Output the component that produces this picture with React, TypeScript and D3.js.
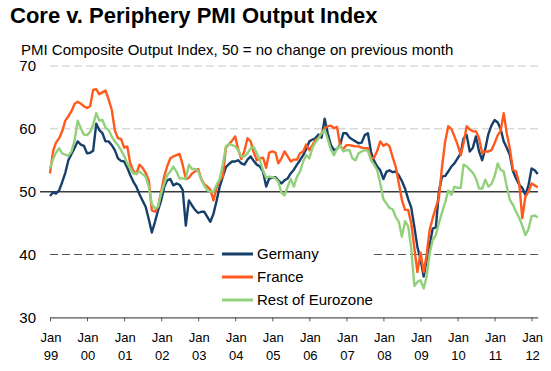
import React, { useRef, useEffect } from "react"
import * as d3 from "d3"

// Monthly PMI composite output, Jan 1999 - Mar 2012
const startYear = 1999

const germany = [
  49.3, 49.9, 49.7, 50.2, 51.5, 53.0, 55.0, 56.0, 57.0, 58.0, 57.5, 57.3,
  56.1, 56.2, 56.5, 60.8, 59.8, 59.3, 58.0, 58.0, 57.4, 56.6, 55.3, 54.9,
  54.8, 53.8, 52.7, 51.6, 50.8, 49.6, 48.6, 47.6, 45.6, 43.5, 45.2, 47.0,
  48.6, 50.8, 51.8, 52.0, 51.0, 51.3, 51.1, 50.3, 44.6, 48.6, 47.8, 47.1,
  46.6, 46.8, 46.8, 46.0, 45.2, 46.5, 48.5, 50.8, 52.4, 53.9, 54.4, 54.8,
  54.8, 55.0, 54.5, 54.3, 55.1, 55.6, 54.9, 54.3, 54.0, 53.2, 50.8, 52.1,
  52.2, 52.3, 51.8, 51.3, 51.8, 52.1, 52.9, 53.5, 54.3, 55.0, 55.8, 56.8,
  58.0, 58.3, 58.5, 59.1, 58.6, 61.6, 59.3, 57.4, 56.6, 56.8, 57.5, 59.3,
  59.3, 58.6, 58.3, 58.0, 57.7, 57.8, 59.0, 59.3, 56.3, 54.9, 54.0, 53.4,
  52.0, 53.2, 53.4, 53.1, 53.2, 52.6, 51.7, 50.5, 48.8, 47.5, 44.4, 41.2,
  39.2, 36.5, 39.0, 41.6, 44.1, 44.3, 50.0, 52.4, 52.5, 53.2, 54.0, 54.5,
  55.3, 56.1, 58.5, 59.0, 56.4, 57.0, 58.8, 56.4, 55.0, 56.8, 59.2, 60.5,
  61.4, 61.0, 60.0, 58.0, 57.0, 55.8, 53.3, 52.1, 51.1, 50.6, 49.5, 51.0,
  53.7, 53.4, 52.8,
]

const france = [
  52.9, 56.5, 57.8, 58.5, 59.6, 61.3, 62.0, 62.8, 64.0, 64.3, 64.0, 63.6,
  63.3, 63.6, 66.2, 66.3, 65.5, 65.8, 66.1, 64.7, 63.0, 59.8, 58.5, 58.4,
  57.0, 57.2, 54.6, 53.3, 52.8, 54.3, 53.8, 53.0, 51.8, 47.0, 46.8, 47.6,
  50.0, 52.5, 54.0, 55.3, 55.6, 55.8, 56.0, 54.3, 52.0, 52.2, 52.9, 53.2,
  53.6, 52.0, 51.2, 50.8, 50.3, 48.6, 50.6, 51.8, 52.4, 57.0, 57.6, 58.1,
  58.8, 56.6, 55.2, 56.5, 58.5, 58.0, 56.3, 55.0, 55.3, 55.4, 53.8, 56.2,
  56.4, 56.2, 54.5, 55.3, 56.4, 55.6, 54.8, 55.1, 55.1, 56.1, 56.4, 57.5,
  56.6, 57.4, 58.2, 58.5, 59.3, 60.1, 60.4, 60.5, 60.1, 60.3, 57.2, 56.8,
  57.4, 57.4, 57.3, 57.2, 57.2, 57.0, 56.9, 56.9, 55.3, 55.4, 56.5, 58.0,
  57.3, 57.6, 57.2, 55.5, 54.0, 51.3, 48.7, 47.1, 47.1, 45.0, 41.0, 37.2,
  40.3, 37.2, 39.8, 43.9, 45.8, 47.5, 49.0, 54.0, 58.0, 60.4, 60.0, 58.8,
  57.5, 55.8, 57.7, 60.4, 59.9, 59.6, 59.6, 58.5, 56.1, 56.4, 56.4, 56.6,
  57.7, 59.0, 59.6, 62.5, 59.3, 56.8, 53.5, 53.2, 51.3, 45.8, 49.2, 50.0,
  51.3, 51.0, 50.7,
]

const restOfEurozone = [
  53.7, 55.2, 56.2, 56.9, 56.1, 55.9, 55.7, 56.4, 58.2, 61.3, 60.1, 59.1,
  59.0, 59.5, 60.6, 62.5, 61.3, 61.4, 60.2, 59.8, 58.8, 58.0, 57.4, 56.6,
  55.7, 54.5, 53.7, 52.9, 52.9, 53.2, 52.8, 52.4, 50.8, 48.0, 47.3, 47.6,
  49.7, 51.3, 52.6, 53.2, 54.0, 53.2, 52.1, 52.1, 52.1, 54.3, 53.6, 53.6,
  53.3, 51.9, 51.0, 50.2, 50.0, 50.0, 51.1, 52.0, 54.3, 57.2, 57.6, 57.4,
  57.2, 56.6, 55.6, 55.6, 56.1, 56.9, 57.1, 56.1, 55.0, 53.4, 52.2, 52.4,
  52.3, 52.1, 51.6, 49.8, 49.4, 50.8, 52.0, 50.8, 52.4, 53.2, 54.8, 55.8,
  55.3, 57.0, 57.8, 58.5, 59.3, 59.8, 58.4, 56.7, 55.8, 56.9, 57.3, 56.4,
  56.6, 56.6, 55.3, 55.0, 56.1, 56.4, 56.6, 56.5, 55.0, 54.3, 53.4, 51.3,
  48.8, 48.1, 47.4, 47.2, 46.0, 45.2, 42.8, 45.3, 44.5, 41.0, 35.0, 35.6,
  35.9, 34.6, 36.4, 40.2, 42.3, 43.1, 45.0, 46.7, 48.3, 50.2, 49.5, 50.8,
  50.6, 50.6, 54.3, 54.0, 53.5, 53.0, 52.1, 50.5, 50.5, 51.9, 50.8, 51.2,
  52.4, 54.5, 53.5, 53.2, 50.8, 48.7, 47.9, 46.8, 45.8, 44.6, 43.1, 44.0,
  46.1, 46.2, 45.9,
]

const seriesNames = ["Germany", "France", "Rest of Eurozone"]
const seriesColors = ["#173F6B", "#FF5A1E", "#93D07C"]
const yTicks = [30, 40, 50, 60, 70]

const FONT = "'Liberation Sans', Arial, Helvetica, sans-serif"

const App: React.FC = () => {
  const svgRef = useRef<SVGSVGElement | null>(null)

  useEffect(() => {
    const svg = d3.select(svgRef.current)
    svg.selectAll("*").remove()

    const allSeries = [germany, france, restOfEurozone]
    const dates = germany.map((_v, i) => new Date(startYear, i, 1))

    const x = d3.scaleTime()
      .domain([new Date(startYear, 0, 1), new Date(2012, 2, 1)])
      .range([50, 537.7])

    const y = d3.scaleLinear()
      .domain([30, 70])
      .range([317.3, 66])

    // TITLES
    svg.append("text")
      .attr("x", 10).attr("y", 23)
      .attr("font-size", 22).attr("font-weight", "bold")
      .attr("fill", "#000")
      .text("Core v. Periphery PMI Output Index")

    svg.append("text")
      .attr("x", 21).attr("y", 55)
      .attr("font-size", 15)
      .attr("fill", "#000")
      .text("PMI Composite Output Index, 50 = no change on previous month")

    // GRID
    const grid = svg.append("g")
    yTicks.filter(v => v !== 30).forEach(v => {
      const line = grid.append("line")
        .attr("x1", v === 50 ? 40 : 50).attr("x2", 538)
        .attr("y1", y(v)).attr("y2", y(v))
      if (v === 50) {
        line.attr("stroke", "#3a3a3a").attr("stroke-width", 1.5)
      } else {
        line.attr("stroke", v === 40 ? "#555" : "#c8c8c8")
          .attr("stroke-width", 1)
          .attr("stroke-dasharray", "8,4")
      }
    })

    // Y LABELS
    svg.append("g")
      .selectAll("text")
      .data(yTicks)
      .enter()
      .append("text")
      .attr("x", 36)
      .attr("y", d => y(d))
      .attr("dy", "0.36em")
      .attr("text-anchor", "end")
      .attr("font-size", 15)
      .attr("fill", "#000")
      .text(d => d)

    // X AXIS
    const xAxis = d3.axisBottom(x)
      .ticks(d3.timeYear.every(1))
      .tickSize(4)
      .tickSizeOuter(0)
      .tickFormat(() => "")

    svg.append("g")
      .attr("transform", `translate(0,${y(30)})`)
      .call(xAxis)
      .call(g => g.select(".domain").attr("stroke", "#555").attr("stroke-width", 1.3))
      .call(g => g.selectAll(".tick line").attr("stroke", "#555"))

    const years = d3.timeYear.range(new Date(startYear, 0, 1), new Date(2012, 1, 1))
    const labels = svg.append("g").attr("font-size", 13).attr("fill", "#000")
    years.forEach(d => {
      labels.append("text")
        .attr("x", x(d) + 1).attr("y", 342)
        .attr("text-anchor", "middle")
        .text("Jan")
      labels.append("text")
        .attr("x", x(d) + 1).attr("y", 360)
        .attr("text-anchor", "middle")
        .text(d3.timeFormat("%y")(d))
    })

    // LINES
    const line = d3.line<number>()
      .x((_v, i) => x(dates[i]))
      .y(v => y(v))

    svg.append("g")
      .selectAll("path")
      .data(allSeries)
      .enter()
      .append("path")
      .attr("d", d => line(d))
      .attr("fill", "none")
      .attr("stroke", (_d, i) => seriesColors[i])
      .attr("stroke-width", 2.4)
      .attr("stroke-linejoin", "round")

    // LEGEND
    const legend = svg.append("g")
    legend.append("rect")
      .attr("x", 218).attr("y", 243)
      .attr("width", 156).attr("height", 67)
      .attr("fill", "#fff")

    seriesNames.forEach((name, i) => {
      const ly = 254 + i * 23
      legend.append("line")
        .attr("x1", 222).attr("x2", 253)
        .attr("y1", ly).attr("y2", ly)
        .attr("stroke", seriesColors[i])
        .attr("stroke-width", 3)
      legend.append("text")
        .attr("x", 257).attr("y", ly)
        .attr("dy", "0.36em")
        .attr("font-size", 15)
        .attr("fill", "#000")
        .text(name)
    })
  }, [])

  return (
    <svg
      ref={svgRef}
      width={551}
      height={371}
      style={{ position: "absolute", left: 0, top: 0, fontFamily: FONT, background: "#fff" }}
    ></svg>
  )
}

export default App
